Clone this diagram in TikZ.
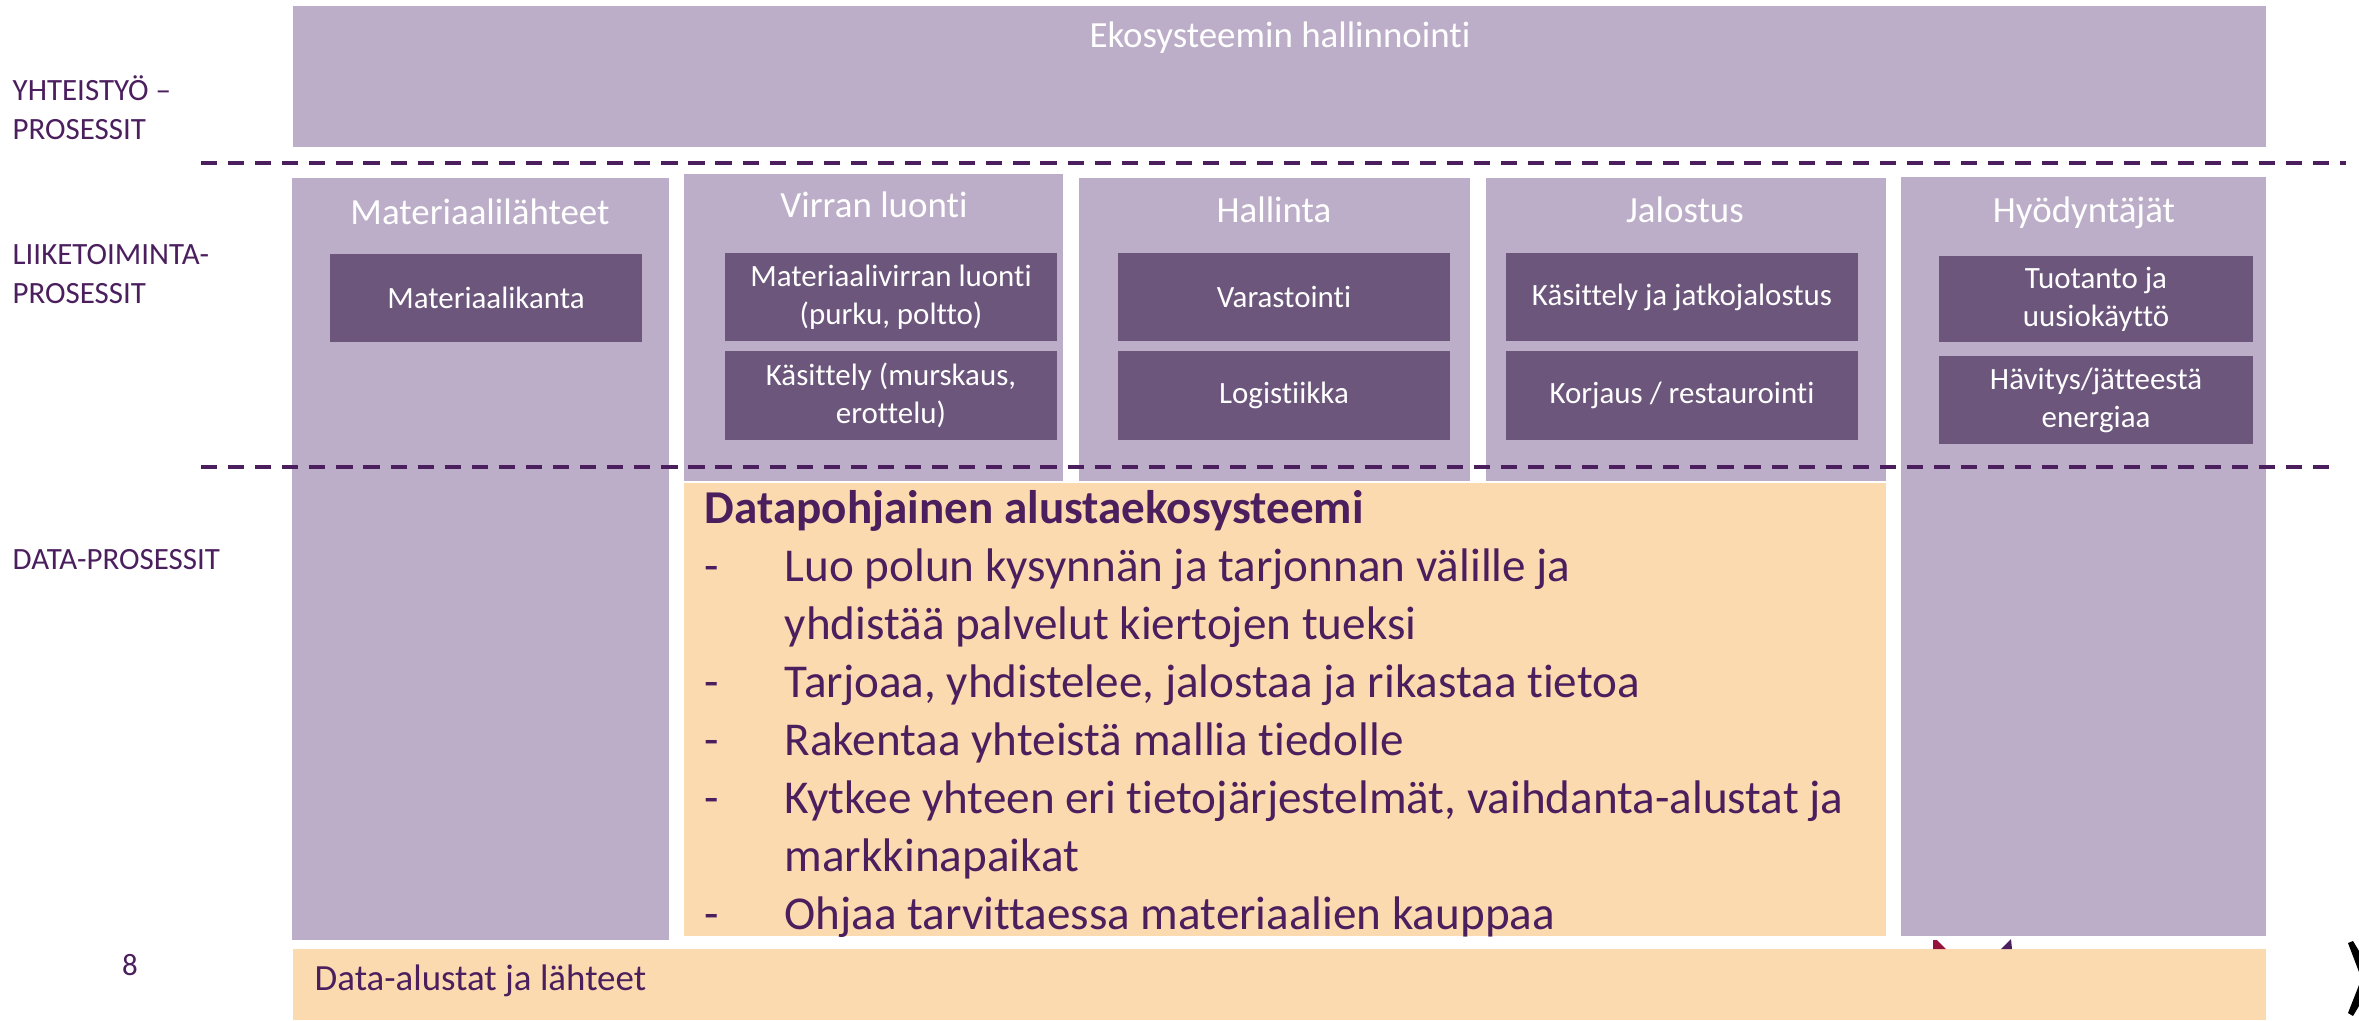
\documentclass[tikz,border=0pt]{standalone}
\usepackage{fontspec}
\setmainfont{Carlito}[Ligatures=NoCommon]
\usetikzlibrary{positioning}
\definecolor{lilac}{HTML}{BCAEC8}
\definecolor{plum}{HTML}{6C567C}
\definecolor{peach}{HTML}{FCDAB0}
\definecolor{ink}{HTML}{4B1F5E}
\definecolor{logored}{HTML}{96143C}
\tikzset{
  sidelabel/.style={anchor=west, align=left, text=ink, inner sep=0pt, font=\fontsize{8.8}{11}\selectfont},
  colhead/.style={text=white, inner sep=0pt, font=\fontsize{10.5}{12.6}\selectfont},
  subbox/.style={fill=plum, text=white, align=center, inner sep=0pt, minimum height=0.88cm, font=\fontsize{8.8}{10.8}\selectfont},
  sepline/.style={ink, line width=1.15pt, dash pattern=on 4.6pt off 3.1pt}
}

\begin{document}
\begin{tikzpicture}[x=0.01cm, y=-0.01cm]
  \useasboundingbox (0,0) rectangle (2359,1020);

  % vasen sarake
  \node[sidelabel] (yht) at (12,108) {YHTEISTYÖ –\\PROSESSIT};
  \node[sidelabel] (lii) at (12,274) {LIIKETOIMINTA-\\PROSESSIT};
  \node[sidelabel] (dat) at (12,560) {DATA-PROSESSIT};
  \node[text=ink, inner sep=0pt, font=\fontsize{8.8}{11}\selectfont] (sivu) at (130,965) {8};

  % taustat
  \fill[lilac] (293,6)    rectangle (2266,147);  \node[colhead] (eko) at (1280,38) {Ekosysteemin hallinnointi};
  \fill[lilac] (292,178)  rectangle (669,940);   \node[colhead] (mlh) at (480,212) {Materiaalilähteet};
  \fill[lilac] (684,174)  rectangle (1063,481);  \node[colhead] (vlu) at (874,205) {Virran luonti};
  \fill[lilac] (1079,178) rectangle (1470,481);  \node[colhead] (hal) at (1274,210) {Hallinta};
  \fill[lilac] (1486,178) rectangle (1886,481);  \node[colhead] (jal) at (1685,210) {Jalostus};
  \fill[lilac] (1901,177) rectangle (2266,936);  \node[colhead] (hyo) at (2084,213) {Hyödyntäjät};
  \fill[peach] (684,483)  rectangle (1886,936);
  \fill[peach] (293,949)  rectangle (2266,1020);

  % prosessilaatikot
  \node[subbox, minimum width=3.12cm] (mk) at (486,298) {Materiaalikanta};
  \node[subbox, minimum width=3.32cm] (vl1) at (891,297) {Materiaalivirran luonti\\(purku, poltto)};
  \node[subbox, minimum width=3.32cm, below=0.09cm of vl1] (vl2) {Käsittely (murskaus,\\erottelu)};
  \node[subbox, minimum width=3.32cm] (ha1) at (1284,297) {Varastointi};
  \node[subbox, minimum width=3.32cm, below=0.09cm of ha1] (ha2) {Logistiikka};
  \node[subbox, minimum width=3.51cm] (ja1) at (1682,297) {Käsittely ja jatkojalostus};
  \node[subbox, minimum width=3.51cm, below=0.09cm of ja1] (ja2) {Korjaus / restaurointi};
  \node[subbox, minimum width=3.13cm, minimum height=0.85cm] (hy1) at (2096,299) {Tuotanto ja\\uusiokäyttö};
  \node[subbox, minimum width=3.13cm, below=0.13cm of hy1] (hy2) {Hävitys/jätteestä\\energiaa};

  % datapohjainen alusta
  \node[anchor=north west, inner sep=0pt, text=ink, font=\fontsize{13.4}{16.5}\selectfont] (alusta) at (704,482) {%
    \begin{tabular}{@{}p{0.8cm}@{}l@{}}
      \multicolumn{2}{@{}l@{}}{\bfseries Datapohjainen alustaekosysteemi}\\
      - & Luo polun kysynnän ja tarjonnan välille ja\\
        & yhdistää palvelut kiertojen tueksi\\
      - & Tarjoaa, yhdistelee, jalostaa ja rikastaa tietoa\\
      - & Rakentaa yhteistä mallia tiedolle\\
      - & Kytkee yhteen eri tietojärjestelmät, vaihdanta-alustat ja\\
        & markkinapaikat\\
      - & Ohjaa tarvittaessa materiaalien kauppaa
    \end{tabular}};
  \node[anchor=west, inner sep=0pt, text=ink, font=\fontsize{10.5}{12.6}\selectfont] (lahteet) at (314,981) {Data-alustat ja lähteet};

  % katkoviivat
  \draw[sepline] (201,163) -- (2346,163);
  \draw[sepline] (201,467) -- (2334,467);

  % logon palat
  \fill[logored] (1933,940) -- (1937,940) -- (1946,949) -- (1933,949) -- cycle;
  \fill[ink] (2011,939) -- (2012,949) -- (2001,949) -- cycle;
  \fill (2348,943) -- (2353,941) -- (2359,951) -- (2359,972) -- cycle;
  \fill (2348,1013) -- (2353,1016) -- (2359,1006) -- (2359,985) -- cycle;
\end{tikzpicture}
\end{document}
